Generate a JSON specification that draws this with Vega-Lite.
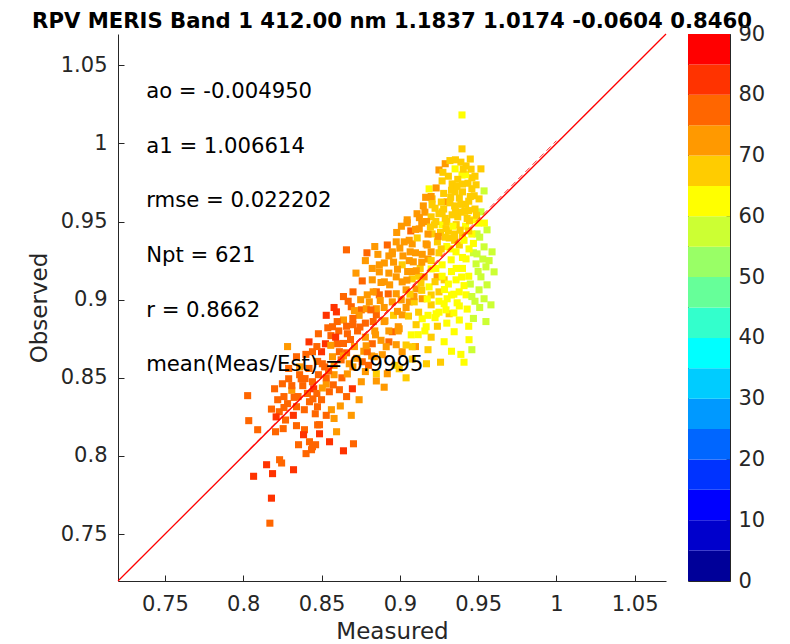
{
"$schema": "https://vega.github.io/schema/vega-lite/v6.json",
"background": "white",
"padding": {"left": 28, "top": 11, "right": 5, "bottom": 2},
"config": {"view": {"stroke": null}, "axis": {"labelFont": "DejaVu Sans", "titleFont": "DejaVu Sans", "labelColor": "#262626", "titleColor": "#262626", "domainColor": "#262626", "tickColor": "#262626", "grid": false, "labelFontSize": 21, "titleFontSize": 23, "titleFontWeight": "normal"}},
"datasets": {
"pts": [
{"m":0.817,"o":0.757,"z":77},{"m":0.818,"o":0.773,"z":82},{"m":0.8066,"o":0.787,"z":82},{"m":0.8149,"o":0.7944,"z":82},{"m":0.8187,"o":0.7887,"z":82},{"m":0.8232,"o":0.7976,"z":77},{"m":0.8245,"o":0.7955,"z":77},{"m":0.8321,"o":0.7912,"z":82},{"m":0.8028,"o":0.8386,"z":77},{"m":0.8035,"o":0.8226,"z":77},
{"m":0.8092,"o":0.8168,"z":77},{"m":0.818,"o":0.83,"z":77},{"m":0.8206,"o":0.8155,"z":77},{"m":0.8255,"o":0.8175,"z":77},{"m":0.834,"o":0.8194,"z":77},{"m":0.8391,"o":0.8168,"z":77},{"m":0.8385,"o":0.8136,"z":82},{"m":0.8487,"o":0.8142,"z":82},{"m":0.8475,"o":0.8199,"z":77},{"m":0.8353,"o":0.8072,"z":77},
{"m":0.8423,"o":0.8091,"z":77},{"m":0.8436,"o":0.804,"z":77},{"m":0.8462,"o":0.8072,"z":77},{"m":0.8551,"o":0.8091,"z":82},{"m":0.8596,"o":0.8155,"z":72},{"m":0.864,"o":0.8033,"z":82},{"m":0.8704,"o":0.8078,"z":77},{"m":0.8442,"o":0.8059,"z":77},{"m":0.8401,"o":0.8015,"z":77},
{"m":0.823,"o":0.8283,"z":77},{"m":0.8283,"o":0.8335,"z":77},{"m":0.834,"o":0.8315,"z":77},{"m":0.8423,"o":0.8347,"z":77},{"m":0.839,"o":0.8296,"z":77},{"m":0.8474,"o":0.8315,"z":77},{"m":0.855,"o":0.8411,"z":77},{"m":0.8614,"o":0.8424,"z":77},{"m":0.8697,"o":0.843,"z":82},{"m":0.8754,"o":0.8475,"z":72},
{"m":0.8563,"o":0.8296,"z":72},{"m":0.8487,"o":0.82,"z":77},{"m":0.829,"o":0.8494,"z":77},{"m":0.825,"o":0.8462,"z":77},{"m":0.837,"o":0.8494,"z":77},{"m":0.8442,"o":0.8475,"z":77},{"m":0.8283,"o":0.87,"z":72},{"m":0.834,"o":0.8635,"z":77},{"m":0.8442,"o":0.8667,"z":77},{"m":0.85,"o":0.8667,"z":82},
{"m":0.842,"o":0.873,"z":82},{"m":0.8525,"o":0.8718,"z":82},{"m":0.848,"o":0.8782,"z":77},{"m":0.857,"o":0.8827,"z":77},{"m":0.8595,"o":0.8922,"z":82},{"m":0.869,"o":0.8955,"z":77},{"m":0.86,"o":0.8718,"z":77},{"m":0.8665,"o":0.8782,"z":77},{"m":0.8614,"o":0.8667,"z":77},{"m":0.857,"o":0.8635,"z":72},
{"m":0.8677,"o":0.859,"z":72},{"m":0.876,"o":0.8603,"z":77},{"m":0.8824,"o":0.8718,"z":77},{"m":0.8888,"o":0.8648,"z":72},{"m":0.892,"o":0.8526,"z":72},{"m":0.885,"o":0.8526,"z":67},{"m":0.9015,"o":0.8667,"z":72},{"m":0.9073,"o":0.8775,"z":62},{"m":0.8952,"o":0.8795,"z":77},{"m":0.885,"o":0.8903,"z":77},
{"m":0.8754,"o":0.8935,"z":77},{"m":0.8805,"o":0.8986,"z":72},{"m":0.8869,"o":0.9031,"z":77},{"m":0.8977,"o":0.9038,"z":72},{"m":0.906,"o":0.8986,"z":72},{"m":0.9015,"o":0.8903,"z":72},{"m":0.9143,"o":0.8878,"z":62},{"m":0.9104,"o":0.884,"z":67},
{"m":0.826,"o":0.838,"z":77},{"m":0.831,"o":0.842,"z":72},{"m":0.835,"o":0.838,"z":77},{"m":0.832,"o":0.826,"z":82},{"m":0.827,"o":0.823,"z":77},{"m":0.841,"o":0.84,"z":77},{"m":0.845,"o":0.843,"z":82},{"m":0.838,"o":0.845,"z":77},{"m":0.85,"o":0.836,"z":77},{"m":0.853,"o":0.846,"z":72},
{"m":0.848,"o":0.852,"z":77},{"m":0.842,"o":0.856,"z":77},{"m":0.836,"o":0.857,"z":72},{"m":0.829,"o":0.856,"z":77},{"m":0.852,"o":0.857,"z":77},{"m":0.858,"o":0.852,"z":72},{"m":0.863,"o":0.85,"z":77},{"m":0.866,"o":0.866,"z":77},{"m":0.871,"o":0.87,"z":72},{"m":0.873,"o":0.88,"z":77},
{"m":0.864,"o":0.887,"z":72},{"m":0.853,"o":0.89,"z":82},{"m":0.87,"o":0.857,"z":72},{"m":0.877,"o":0.867,"z":72},{"m":0.88,"o":0.858,"z":77},{"m":0.884,"o":0.88,"z":72},{"m":0.878,"o":0.885,"z":77},{"m":0.89,"o":0.886,"z":72},{"m":0.893,"o":0.873,"z":77},{"m":0.897,"o":0.858,"z":67},
{"m":0.899,"o":0.88,"z":72},{"m":0.904,"o":0.871,"z":67},{"m":0.862,"o":0.832,"z":72},{"m":0.866,"o":0.838,"z":77},{"m":0.858,"o":0.824,"z":72},{"m":0.869,"o":0.826,"z":72},{"m":0.874,"o":0.836,"z":72},{"m":0.853,"o":0.826,"z":77},{"m":0.846,"o":0.827,"z":77},{"m":0.822,"o":0.836,"z":77},
{"m":0.82,"o":0.843,"z":77},{"m":0.8505,"o":0.859,"z":77},{"m":0.8559,"o":0.8708,"z":72},
{"m":0.8869,"o":0.9178,"z":72},{"m":0.8824,"o":0.9127,"z":72},{"m":0.8901,"o":0.9114,"z":72},{"m":0.8977,"o":0.9146,"z":72},{"m":0.9015,"o":0.9114,"z":72},{"m":0.9079,"o":0.9133,"z":67},{"m":0.9104,"o":0.9069,"z":72},{"m":0.904,"o":0.9063,"z":72},{"m":0.8926,"o":0.9037,"z":77},{"m":0.885,"o":0.905,"z":77},
{"m":0.8792,"o":0.9031,"z":72},{"m":0.8786,"o":0.8942,"z":72},{"m":0.885,"o":0.8942,"z":72},{"m":0.8952,"o":0.8986,"z":72},{"m":0.9009,"o":0.8999,"z":72},{"m":0.9092,"o":0.8986,"z":67},{"m":0.9143,"o":0.9006,"z":72},{"m":0.92,"o":0.8967,"z":67},{"m":0.9283,"o":0.8974,"z":62},{"m":0.9366,"o":0.898,"z":62},
{"m":0.9232,"o":0.891,"z":62},{"m":0.9315,"o":0.891,"z":67},{"m":0.8659,"o":0.9319,"z":77},{"m":0.9047,"o":0.9492,"z":72},{"m":0.9124,"o":0.9453,"z":72},{"m":0.8952,"o":0.9306,"z":72},{"m":0.8901,"o":0.9235,"z":72},{"m":0.8824,"o":0.92,"z":72},{"m":0.876,"o":0.912,"z":77},{"m":0.8701,"o":0.905,"z":77},
{"m":0.867,"o":0.899,"z":77},{"m":0.872,"o":0.917,"z":72},{"m":0.878,"o":0.925,"z":72},{"m":0.886,"o":0.929,"z":72},{"m":0.9028,"o":0.937,"z":72},{"m":0.8977,"o":0.937,"z":72},{"m":0.9079,"o":0.9357,"z":72},{"m":0.9066,"o":0.9306,"z":72},{"m":0.9086,"o":0.9242,"z":72},{"m":0.9015,"o":0.9223,"z":67},
{"m":0.9143,"o":0.929,"z":72},{"m":0.9175,"o":0.935,"z":72},{"m":0.9111,"o":0.9395,"z":67},{"m":0.918,"o":0.926,"z":72},
{"m":0.9397,"o":1.0182,"z":62},{"m":0.9397,"o":0.9965,"z":67},{"m":0.939,"o":0.988,"z":67},{"m":0.9423,"o":0.9856,"z":67},{"m":0.925,"o":0.983,"z":72},{"m":0.9353,"o":0.9837,"z":62},{"m":0.9397,"o":0.9798,"z":62},{"m":0.9518,"o":0.9837,"z":67},{"m":0.946,"o":0.978,"z":67},{"m":0.9487,"o":0.9735,"z":67},
{"m":0.9334,"o":0.9741,"z":67},{"m":0.94,"o":0.974,"z":67},{"m":0.9187,"o":0.9709,"z":62},{"m":0.9232,"o":0.9715,"z":72},{"m":0.9538,"o":0.9696,"z":57},{"m":0.9353,"o":0.969,"z":67},{"m":0.9206,"o":0.9645,"z":67},{"m":0.9302,"o":0.9626,"z":72},{"m":0.9206,"o":0.9607,"z":67},{"m":0.9506,"o":0.9645,"z":67},
{"m":0.9518,"o":0.9562,"z":57},{"m":0.927,"o":0.9562,"z":67},{"m":0.9047,"o":0.9511,"z":72},{"m":0.922,"o":0.9479,"z":67},{"m":0.9206,"o":0.9421,"z":67},{"m":0.927,"o":0.9479,"z":62},{"m":0.9334,"o":0.9543,"z":67},{"m":0.9474,"o":0.9511,"z":62},{"m":0.9493,"o":0.9421,"z":57},{"m":0.9557,"o":0.9447,"z":57},
{"m":0.938,"o":0.965,"z":67},{"m":0.942,"o":0.961,"z":67},{"m":0.945,"o":0.966,"z":67},{"m":0.935,"o":0.96,"z":67},{"m":0.939,"o":0.956,"z":67},{"m":0.944,"o":0.957,"z":67},{"m":0.93,"o":0.95,"z":67},{"m":0.936,"o":0.948,"z":67},{"m":0.942,"o":0.947,"z":62},{"m":0.946,"o":0.942,"z":62},
{"m":0.94,"o":0.941,"z":67},{"m":0.935,"o":0.942,"z":67},{"m":0.929,"o":0.94,"z":67},{"m":0.924,"o":0.937,"z":67},{"m":0.93,"o":0.934,"z":62},{"m":0.938,"o":0.935,"z":67},{"m":0.925,"o":0.955,"z":67},{"m":0.928,"o":0.968,"z":67},{"m":0.931,"o":0.979,"z":67},{"m":0.945,"o":0.99,"z":67},
{"m":0.929,"o":0.987,"z":72},{"m":0.948,"o":0.958,"z":67},{"m":0.943,"o":0.952,"z":67},{"m":0.937,"o":0.953,"z":67},{"m":0.916,"o":0.956,"z":72},{"m":0.914,"o":0.949,"z":72},{"m":0.92,"o":0.953,"z":67},{"m":0.933,"o":0.97,"z":67},{"m":0.95,"o":0.949,"z":62},{"m":0.926,"o":0.943,"z":67},
{"m":0.9359,"o":0.9306,"z":62},{"m":0.9321,"o":0.9325,"z":62},{"m":0.9264,"o":0.9325,"z":67},{"m":0.92,"o":0.9306,"z":72},{"m":0.9168,"o":0.9357,"z":72},{"m":0.9423,"o":0.9261,"z":62},{"m":0.92,"o":0.9197,"z":62},{"m":0.927,"o":0.9223,"z":62},{"m":0.9328,"o":0.9255,"z":62},{"m":0.9359,"o":0.9127,"z":62},
{"m":0.9283,"o":0.9127,"z":67},{"m":0.9187,"o":0.9082,"z":62},{"m":0.9155,"o":0.9146,"z":72},{"m":0.9238,"o":0.9146,"z":72},{"m":0.9302,"o":0.9006,"z":62},{"m":0.9423,"o":0.9031,"z":62},{"m":0.9379,"o":0.905,"z":62},{"m":0.944,"o":0.915,"z":62},{"m":0.94,"o":0.92,"z":62},{"m":0.947,"o":0.93,"z":57},
{"m":0.9442,"o":0.9325,"z":62},{"m":0.913,"o":0.92,"z":67},{"m":0.908,"o":0.918,"z":72},{"m":0.925,"o":0.905,"z":67},{"m":0.933,"o":0.918,"z":62},
{"m":0.9589,"o":0.9306,"z":57},{"m":0.9538,"o":0.9338,"z":57},{"m":0.9493,"o":0.9293,"z":57},{"m":0.9487,"o":0.9229,"z":57},{"m":0.955,"o":0.921,"z":57},{"m":0.9602,"o":0.9178,"z":57},{"m":0.9518,"o":0.9146,"z":57},{"m":0.9557,"o":0.9095,"z":57},{"m":0.9506,"o":0.9063,"z":57},{"m":0.9538,"o":0.9006,"z":57},
{"m":0.9582,"o":0.8967,"z":57},{"m":0.948,"o":0.899,"z":57},{"m":0.945,"o":0.91,"z":57},{"m":0.95,"o":0.918,"z":57},{"m":0.943,"o":0.894,"z":62},{"m":0.947,"o":0.888,"z":57},{"m":0.955,"o":0.886,"z":57},{"m":0.944,"o":0.883,"z":62},
{"m":0.9347,"o":0.8795,"z":62},{"m":0.9442,"o":0.8744,"z":62},{"m":0.9283,"o":0.8731,"z":62},{"m":0.92,"o":0.876,"z":67},{"m":0.938,"o":0.887,"z":62},{"m":0.93,"o":0.885,"z":62},{"m":0.924,"o":0.883,"z":67},{"m":0.916,"o":0.88,"z":62},{"m":0.918,"o":0.868,"z":67},{"m":0.91,"o":0.87,"z":72},
{"m":0.939,"o":0.865,"z":62},{"m":0.933,"o":0.867,"z":62},{"m":0.926,"o":0.86,"z":67},{"m":0.917,"o":0.859,"z":67},{"m":0.908,"o":0.862,"z":67},{"m":0.946,"o":0.868,"z":57},{"m":0.941,"o":0.86,"z":62},
{"m":0.8952,"o":0.9293,"z":72},{"m":0.8869,"o":0.9223,"z":72},{"m":0.892,"o":0.935,"z":77},{"m":0.898,"o":0.943,"z":72},{"m":0.901,"o":0.947,"z":72},{"m":0.907,"o":0.944,"z":77},{"m":0.884,"o":0.934,"z":72},{"m":0.879,"o":0.93,"z":77},{"m":0.915,"o":0.96,"z":72},{"m":0.92,"o":0.966,"z":72},
{"m":0.911,"o":0.955,"z":72},{"m":0.874,"o":0.89,"z":72},{"m":0.87,"o":0.884,"z":77},{"m":0.878,"o":0.876,"z":72},{"m":0.864,"o":0.872,"z":77},{"m":0.882,"o":0.864,"z":72},{"m":0.888,"o":0.874,"z":72},{"m":0.893,"o":0.88,"z":72},{"m":0.896,"o":0.89,"z":67},{"m":0.89,"o":0.895,"z":72},
{"m":0.883,"o":0.886,"z":77},{"m":0.861,"o":0.88,"z":77},{"m":0.856,"o":0.877,"z":77},{"m":0.858,"o":0.895,"z":82},{"m":0.864,"o":0.902,"z":77},{"m":0.871,"o":0.893,"z":72},
{"m":0.899,"o":0.8827,"z":72},{"m":0.8996,"o":0.8814,"z":72},{"m":0.9117,"o":0.8776,"z":62},{"m":0.9168,"o":0.8827,"z":62},{"m":0.8977,"o":0.8712,"z":72},{"m":0.8913,"o":0.8699,"z":72},{"m":0.9079,"o":0.8699,"z":67},{"m":0.8792,"o":0.8667,"z":77},{"m":0.8837,"o":0.8635,"z":72},{"m":0.8996,"o":0.8558,"z":67},
{"m":0.885,"o":0.848,"z":72},{"m":0.89,"o":0.844,"z":72},{"m":0.904,"o":0.85,"z":67},{"m":0.878,"o":0.854,"z":72},
{"m":0.931,"o":0.944,"z":67},{"m":0.935,"o":0.938,"z":67},{"m":0.941,"o":0.938,"z":62},{"m":0.928,"o":0.958,"z":67},{"m":0.932,"o":0.962,"z":67},{"m":0.94,"o":0.969,"z":67},{"m":0.946,"o":0.971,"z":67},{"m":0.937,"o":0.977,"z":67},{"m":0.942,"o":0.98,"z":62},{"m":0.927,"o":0.976,"z":67},
{"m":0.932,"o":0.989,"z":67},{"m":0.948,"o":0.979,"z":67},{"m":0.944,"o":0.963,"z":67},{"m":0.923,"o":0.95,"z":67},{"m":0.918,"o":0.942,"z":72},{"m":0.925,"o":0.93,"z":67},{"m":0.92,"o":0.925,"z":67},{"m":0.914,"o":0.924,"z":72},{"m":0.91,"o":0.93,"z":72},{"m":0.906,"o":0.925,"z":72},
{"m":0.902,"o":0.928,"z":72},{"m":0.896,"o":0.924,"z":72},{"m":0.893,"o":0.917,"z":72},{"m":0.905,"o":0.918,"z":72},{"m":0.912,"o":0.915,"z":67},{"m":0.923,"o":0.92,"z":62},{"m":0.927,"o":0.915,"z":62},{"m":0.931,"o":0.91,"z":62},{"m":0.936,"o":0.92,"z":62},{"m":0.94,"o":0.927,"z":62},
{"m":0.933,"o":0.903,"z":62},{"m":0.925,"o":0.899,"z":62},{"m":0.92,"o":0.903,"z":67},{"m":0.914,"o":0.906,"z":67},{"m":0.909,"o":0.902,"z":72},{"m":0.904,"o":0.895,"z":72},{"m":0.912,"o":0.892,"z":67},{"m":0.918,"o":0.89,"z":62},{"m":0.925,"o":0.892,"z":62},{"m":0.941,"o":0.909,"z":62},
{"m":0.938,"o":0.896,"z":62},{"m":0.946,"o":0.902,"z":57},{"m":0.951,"o":0.895,"z":57},{"m":0.953,"o":0.926,"z":57},{"m":0.957,"o":0.925,"z":57},{"m":0.947,"o":0.936,"z":62},{"m":0.951,"o":0.94,"z":57},{"m":0.954,"o":0.949,"z":62},{"m":0.934,"o":0.947,"z":62},{"m":0.944,"o":0.944,"z":67},
{"m":0.949,"o":0.954,"z":67},{"m":0.939,"o":0.961,"z":67},{"m":0.929,"o":0.952,"z":67},{"m":0.917,"o":0.95,"z":72},{"m":0.91,"o":0.945,"z":72},{"m":0.906,"o":0.938,"z":72},{"m":0.9,"o":0.933,"z":72},{"m":0.893,"o":0.928,"z":72},{"m":0.888,"o":0.911,"z":72},{"m":0.883,"o":0.905,"z":72},
{"m":0.875,"o":0.9,"z":72},{"m":0.87,"o":0.888,"z":77},{"m":0.866,"o":0.883,"z":77},{"m":0.86,"o":0.886,"z":77},{"m":0.854,"o":0.882,"z":77},{"m":0.859,"o":0.876,"z":82},{"m":0.847,"o":0.87,"z":77},{"m":0.84,"o":0.865,"z":77},{"m":0.836,"o":0.852,"z":77},{"m":0.831,"o":0.845,"z":77},
{"m":0.826,"o":0.831,"z":77},{"m":0.821,"o":0.825,"z":82},{"m":0.847,"o":0.84,"z":77},{"m":0.853,"o":0.85,"z":77},{"m":0.858,"o":0.858,"z":72},{"m":0.864,"o":0.864,"z":72},
{"m":0.9265,"o":0.9625,"z":67},{"m":0.9325,"o":0.9655,"z":67},{"m":0.9365,"o":0.9725,"z":67},{"m":0.9435,"o":0.9745,"z":67},{"m":0.9475,"o":0.9665,"z":67},{"m":0.9415,"o":0.9565,"z":67},{"m":0.9355,"o":0.9565,"z":67},{"m":0.9295,"o":0.9455,"z":67},{"m":0.9385,"o":0.9445,"z":67},{"m":0.9445,"o":0.9505,"z":67},
{"m":0.9315,"o":0.9395,"z":67},{"m":0.9245,"o":0.9405,"z":72},{"m":0.9195,"o":0.9465,"z":67},{"m":0.9225,"o":0.9585,"z":67},{"m":0.9405,"o":0.9835,"z":67},{"m":0.9355,"o":0.9895,"z":67},{"m":0.9455,"o":0.9835,"z":67},{"m":0.9275,"o":0.9815,"z":67},{"m":0.9165,"o":0.9655,"z":72},{"m":0.9125,"o":0.9525,"z":72},
{"m":0.8985,"o":0.9195,"z":72},{"m":0.8935,"o":0.9095,"z":72},{"m":0.9045,"o":0.9125,"z":72},{"m":0.8875,"o":0.8995,"z":72},{"m":0.8815,"o":0.8935,"z":77},{"m":0.9065,"o":0.9035,"z":67},{"m":0.9135,"o":0.9105,"z":67},{"m":0.9105,"o":0.9185,"z":72},{"m":0.8905,"o":0.8865,"z":72},{"m":0.8985,"o":0.8925,"z":72},
{"m":0.9055,"o":0.8895,"z":67},{"m":0.8745,"o":0.8825,"z":77},{"m":0.8685,"o":0.8745,"z":77},{"m":0.8625,"o":0.8615,"z":77},{"m":0.8545,"o":0.8545,"z":77},{"m":0.8475,"o":0.8605,"z":77},{"m":0.8395,"o":0.8495,"z":77},{"m":0.8325,"o":0.8375,"z":77},{"m":0.8445,"o":0.8365,"z":77},{"m":0.8505,"o":0.8435,"z":72},
{"m":0.8575,"o":0.8455,"z":77},{"m":0.8665,"o":0.8525,"z":72},{"m":0.8725,"o":0.8625,"z":72},{"m":0.8785,"o":0.8705,"z":72},{"m":0.8845,"o":0.8775,"z":72},
{"m":0.9225,"o":0.8885,"z":62},{"m":0.9295,"o":0.8935,"z":62},{"m":0.9345,"o":0.8915,"z":62},{"m":0.9395,"o":0.9145,"z":62},{"m":0.9285,"o":0.9065,"z":62},{"m":0.9225,"o":0.9115,"z":67},{"m":0.9175,"o":0.9005,"z":62},{"m":0.9345,"o":0.9035,"z":62}
],
"one": [{"m":0.72,"o":0.72},{"m":1.07,"o":1.07}],
"fit": [{"m":0.8,"o":0.8003},{"m":1.0,"o":1.0017}],
"txt": [
{"m":0.738,"o":1.033,"label":"ao = -0.004950"},
{"m":0.738,"o":0.998,"label":"a1 = 1.006614"},
{"m":0.738,"o":0.963,"label":"rmse = 0.022202"},
{"m":0.738,"o":0.928,"label":"Npt = 621"},
{"m":0.738,"o":0.893,"label":"r = 0.8662"},
{"m":0.738,"o":0.858,"label":"mean(Meas/Est) = 0.9995"}
],
"cbar": [{"lo":0,"hi":5},{"lo":5,"hi":10},{"lo":10,"hi":15},{"lo":15,"hi":20},{"lo":20,"hi":25},{"lo":25,"hi":30},{"lo":30,"hi":35},{"lo":35,"hi":40},{"lo":40,"hi":45},{"lo":45,"hi":50},{"lo":50,"hi":55},{"lo":55,"hi":60},{"lo":60,"hi":65},{"lo":65,"hi":70},{"lo":70,"hi":75},{"lo":75,"hi":80},{"lo":80,"hi":85},{"lo":85,"hi":90}]
},
"bounds": "flush",
"spacing": 22,
"resolve": {"scale": {"color": "independent"}},
"hconcat": [
{
"width": 548, "height": 547,
"title": {"text": "RPV MERIS Band 1 412.00 nm 1.1837 1.0174 -0.0604 0.8460", "font": "DejaVu Sans", "fontSize": 21.2, "fontWeight": "bold", "color": "black", "offset": -1, "anchor": "middle"},
"encoding": {
"x": {"field": "m", "type": "quantitative", "scale": {"domain": [0.72, 1.07], "nice": false, "zero": false}, "axis": {"title": "Measured", "values": [0.75, 0.8, 0.85, 0.9, 0.95, 1, 1.05], "format": ".2~f", "tickSize": -6, "labelPadding": 18, "titlePadding": 6, "domainWidth": 1}},
"y": {"field": "o", "type": "quantitative", "scale": {"domain": [0.72, 1.07], "nice": false, "zero": false}, "axis": {"title": "Observed", "values": [0.75, 0.8, 0.85, 0.9, 0.95, 1, 1.05], "format": ".2~f", "tickSize": -6, "labelPadding": 17, "titlePadding": 9, "domainWidth": 1}}
},
"layer": [
{"data": {"name": "pts"}, "mark": {"type": "square", "size": 50, "filled": true, "opacity": 1},
 "encoding": {"color": {"field": "z", "type": "quantitative", "scale": {"type": "threshold", "domain": [5,10,15,20,25,30,35,40,45,50,55,60,65,70,75,80,85], "range": ["#000099","#0000CC","#0000FF","#0033FF","#0066FF","#0099FF","#00CCFF","#00FFFF","#33FFCC","#66FF99","#99FF66","#CCFF33","#FFFF00","#FFCC00","#FF9900","#FF6600","#FF3300","#FF0000"]}, "legend": null}}},
{"data": {"name": "fit"}, "mark": {"type": "line", "color": "#FF0000", "strokeWidth": 1, "strokeDash": [6, 4], "opacity": 0.8}, "encoding": {}},
{"data": {"name": "one"}, "mark": {"type": "line", "color": "#FF0000", "strokeWidth": 1.3}, "encoding": {}},
{"data": {"name": "txt"}, "mark": {"type": "text", "align": "left", "baseline": "middle", "font": "DejaVu Sans", "fontSize": 21.2, "color": "black"}, "encoding": {"text": {"field": "label"}}}
]
},
{
"width": 42, "height": 547,
"view": {"stroke": "#262626", "strokeWidth": 1},
"data": {"name": "cbar"},
"mark": {"type": "rect"},
"encoding": {
"y": {"field": "lo", "type": "quantitative", "scale": {"domain": [0, 90], "nice": false, "zero": false}, "axis": {"orient": "right", "title": null, "values": [0,10,20,30,40,50,60,70,80,90], "tickSize": -4, "labelPadding": 12, "domain": false}},
"y2": {"field": "hi"},
"color": {"field": "lo", "type": "quantitative", "scale": {"type": "threshold", "domain": [5,10,15,20,25,30,35,40,45,50,55,60,65,70,75,80,85], "range": ["#000099","#0000CC","#0000FF","#0033FF","#0066FF","#0099FF","#00CCFF","#00FFFF","#33FFCC","#66FF99","#99FF66","#CCFF33","#FFFF00","#FFCC00","#FF9900","#FF6600","#FF3300","#FF0000"]}, "legend": null}
}
}
]
}
